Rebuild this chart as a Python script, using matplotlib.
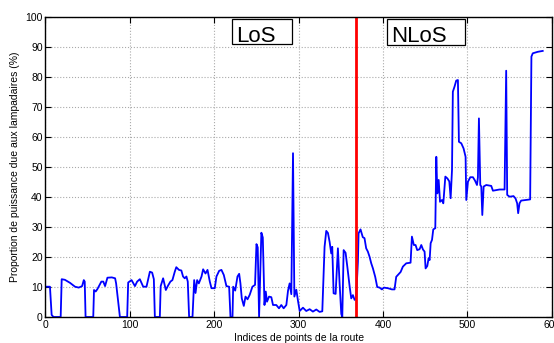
import matplotlib
matplotlib.use('Agg')
import matplotlib.pyplot as plt
from matplotlib.patches import Rectangle

plt.rcParams['font.family'] = ['Liberation Sans', 'DejaVu Sans']

# route point index / share of power due to street lamps (%)
idx = [0, 5.3, 7.3, 9.5, 17.2, 18, 19.2, 23, 29, 35, 39.4, 43.4, 45.4, 46.5, 47.5, 56.6,
       57.5, 59.5, 61.5, 66.2, 68.5, 70.6, 73.4, 78.6, 82.5, 83.7, 88.2, 96.8,
       98, 102, 106, 108.6, 111.8, 115.8, 119.7, 123.7, 126.4, 128.4, 129.6, 135.5,
       136.5, 139.4, 142.6, 145.3, 148, 150.4, 153.2, 155, 158.2, 161, 163, 165, 167,
       168.6, 170.2, 174.2, 176.2, 177.8, 179.7, 181.7, 184.9, 186.8, 189.6, 192,
       194.7, 196.7, 200.6, 202.6, 205.8, 208.5, 211.3, 214.4, 217.6, 219.2, 221.6,
       222.4, 224.8, 227.5, 229.5, 231, 232.6, 235, 237, 239.4, 242, 245.2, 248.3,
       250, 251.5, 253.1, 255.8, 257.5, 259.5, 261, 262.5, 264.9, 267.6, 269.6,
       273.5, 276.7, 279.4, 282.2, 285.4, 287.4, 289.3, 291.3, 293.3, 294.9, 297.2,
       299.2, 301.2, 305.1, 309, 313, 316.9, 320.9, 324.8, 328, 330.7, 332.7, 334.7,
       336.7, 338.6, 339.8, 341.4, 343.8, 346.5, 348.5, 350.5, 351.7, 353.3, 355.6,
       357.6, 360.4, 362.3, 364.3, 366.3, 368, 370.2, 371, 373.3, 376, 378, 380,
       382, 384, 386, 388, 390.7, 393.1, 395.9, 398.6, 401, 405.7, 410.5, 413.6,
       415.6, 417.6, 420.8, 423.5, 427.5, 432.6, 434.2, 436.5, 438.5, 440.5, 443.3,
       445.3, 447.3, 449.2, 450.4, 452.4, 454, 455.2, 456.4, 458, 459.5, 461.9,
       463.1, 464.3, 465.9, 467.5, 469.8, 471.4, 473.8, 476.2, 478.5, 480.1, 481.7,
       482.7, 484.7, 486.7, 488.7, 489.9, 492.7, 495.4, 497.8, 498.6, 500.6, 503.4,
       506.5, 508.9, 511.3, 512.4, 513.6, 515.2, 516.4, 517.6, 519.2, 522.3, 528.2,
       530.2, 534.1, 538, 544, 545.9, 547.1, 549.9, 554.6, 557, 558.9, 560.1, 561.7,
       563.6, 569.5, 574.3, 575.8, 577.4, 583.3, 589.2]
prop = [10.1, 10.1, 0.7, 0, 0, 0, 12.6, 12.4, 11.4, 10.1, 9.8, 10.3, 12.3, 11.8, 0, 0,
        9.0, 8.5, 9.3, 11.8, 11.8, 10.3, 13.1, 13.2, 12.9, 11.2, 0, 0,
        11.5, 12.3, 10.3, 11.8, 12.6, 10.1, 10.1, 15.1, 14.8, 12.6, 0, 0,
        10.3, 12.9, 9.0, 10.5, 11.8, 12.3, 15.1, 16.6, 15.7, 15.5, 13.5, 12.9, 13.5,
        11.8, 0, 0, 12.3, 8.0, 12.3, 11.2, 13.5, 15.9, 14.5, 15.7,
        11.8, 9.6, 9.6, 13.5, 15.4, 15.7, 14.0, 10.3, 10.1, 0, 0,
        10.1, 8.8, 13.5, 14.4, 11.2, 6.2, 3.7, 6.8, 5.9, 7.4, 10.1, 10.7,
        24.3, 23.2, 0, 28.1, 26.5, 4.0, 8.5, 5.1, 6.8, 6.6, 4.0,
        4.0, 2.9, 4.0, 2.9, 4.0, 8.8, 11.2, 7.6, 54.6, 6.8, 9.1,
        5.4, 2.0, 3.1, 2.0, 2.6, 1.8, 2.5, 1.7, 1.9, 23.4, 28.7, 28.0,
        25.0, 21.2, 23.4, 7.9, 7.7, 22.9, 11.2, 1.0, 0, 22.3, 21.4,
        16.9, 10.2, 6.2, 7.3, 5.7, 6.0, 18.4, 27.9, 29.2, 26.6, 26.3, 22.9,
        21.8, 20.1, 17.9, 16.2, 13.4, 10.0, 9.8, 9.2, 9.8, 9.6, 9.2, 9.2,
        13.4, 14.0, 15.0, 16.8, 17.9, 18.1, 26.8, 24.0, 24.0, 22.3, 22.6,
        24.0, 22.5, 21.8, 16.2, 17.0, 19.6, 19.0, 24.6, 25.7, 29.2, 29.6,
        53.4, 41.2, 45.7, 38.4, 39.0, 37.9, 46.8, 46.2, 45.2, 39.6, 49.0,
        75.1, 76.8, 78.8, 79.0, 58.4, 57.9, 56.2, 53.4, 39.0, 45.1, 46.6,
        46.6, 45.5, 44.0, 46.6, 66.2, 44.0, 43.5, 34.0, 43.5, 44.0, 43.7,
        42.1, 42.3, 42.5, 42.5, 82.1, 40.7, 40.1, 40.3, 39.5, 37.9, 34.6, 37.9,
        38.8, 39.0, 39.2, 86.8, 87.9, 88.4, 88.7]

split_idx = 368
x_ticks = [0, 100, 200, 300, 400, 500, 600]
y_ticks = [0, 10, 20, 30, 40, 50, 60, 70, 80, 90, 100]

fig = plt.figure(figsize=(5.54, 3.43), dpi=100)
ax = fig.add_axes([0.0821, 0.0758, 0.9140, 0.8746])

ax.plot(idx, prop, color='#0000ff', linewidth=1.3)
ax.axvline(split_idx, color='#ff0000', linewidth=2)

ax.set_xlim(0, 600)
ax.set_ylim(0, 100)
ax.set_xticks(x_ticks)
ax.set_yticks(y_ticks)
ax.grid(True, linestyle=':', color='#aaaaaa', linewidth=0.8)
ax.tick_params(direction='in', top=True, right=True, labelsize=7.5, length=4, pad=2)
for s in ax.spines.values():
    s.set_linewidth(1.0)

ax.set_xlabel('Indices de points de la route', fontsize=7.5, labelpad=2)
ax.set_ylabel('Proportion de puissance due aux lampadaires (%)', fontsize=7.5, labelpad=4)

# region labels, matlab-style text boxes (extra room on the right)
ax.add_patch(Rectangle((221.5, 90.9), 71, 8.4, facecolor='white', edgecolor='black',
                       linewidth=0.9, zorder=4))
ax.add_patch(Rectangle((404.5, 90.7), 93, 8.6, facecolor='white', edgecolor='black',
                       linewidth=0.9, zorder=4))
ax.text(226, 91.6, 'LoS', fontsize=16, ha='left', va='baseline', zorder=5)
ax.text(409.5, 91.6, 'NLoS', fontsize=16, ha='left', va='baseline', zorder=5)

plt.savefig('out.png', dpi=100)
